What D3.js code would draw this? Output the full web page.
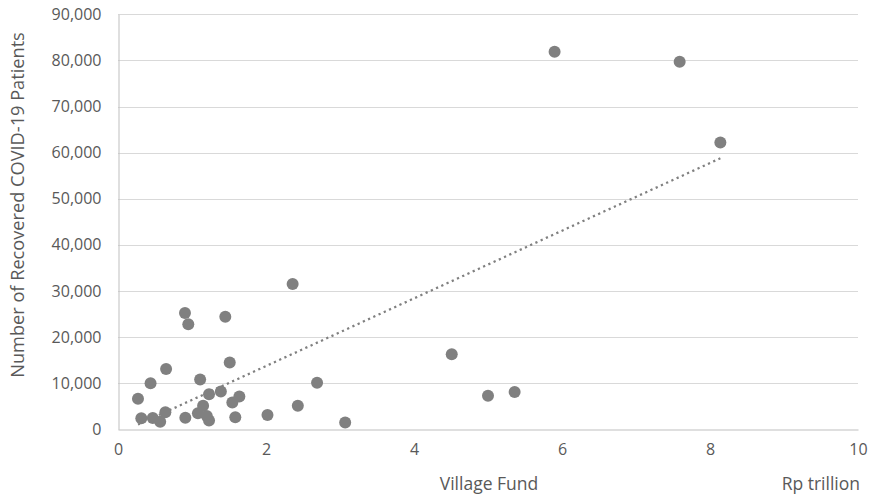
<!DOCTYPE html>
<html><head><meta charset="utf-8">
<script src="https://cdn.jsdelivr.net/npm/d3@7"></script>
<style>body{margin:0;background:#fff}text{font-family:"Open Sans",sans-serif;fill:#595959}</style>
</head><body>
<svg id="c" width="872" height="496"></svg>
<script>
const villageFund = [2.36,0.905,0.95,1.45,1.51,0.65,0.44,1.11,2.69,0.27,1.23,1.39,1.64,1.545,1.15,2.43,0.64,1.08,0.315,0.47,0.57,0.91,1.2,1.23,1.585,2.02,3.07,5.90,7.59,8.14,4.51,5.0,5.36];
const recovered = [31500,25200,22800,24400,14500,13100,10000,10800,10100,6600,7600,8200,7100,5800,5100,5100,3700,3500,2400,2450,1650,2500,2900,1900,2600,3100,1500,81900,79700,62200,16300,7300,8100];
const xTicks = [0,2,4,6,8,10];
const yTicks = [0,10000,20000,30000,40000,50000,60000,70000,80000,90000];
const xTitle = "Village Fund", xUnit = "Rp trillion", yTitle = "Number of Recovered COVID-19 Patients";

const svg = d3.select("#c");
const L=118,R=858,T=14.3,B=429.3;
const x = d3.scaleLinear().domain([0,10]).range([L,R]);
const y = d3.scaleLinear().domain([0,90000]).range([B,T]);

// gridlines
svg.append("g").selectAll("line").data(yTicks.slice(1)).join("line")
  .attr("x1",L).attr("x2",R).attr("y1",d=>Math.round(y(d))+0.5).attr("y2",d=>Math.round(y(d))+0.5)
  .attr("stroke","#d9d9d9").attr("stroke-width",1);

// axes
const ya = svg.append("g").attr("transform",`translate(${L+0.5},0)`)
  .call(d3.axisLeft(y).tickValues(yTicks).tickFormat(d3.format(",")).tickSize(0).tickPadding(17));
const xa = svg.append("g").attr("transform",`translate(0,${Math.round(B)+0.5})`)
  .call(d3.axisBottom(x).tickValues(xTicks).tickFormat(d3.format("d")).tickSize(0).tickPadding(14));
[ya,xa].forEach(a=>{a.select(".domain").attr("stroke","#bfbfbf");a.selectAll("text").style("font-size","16px").attr("fill","#595959").style("font-family","'Open Sans',sans-serif");});

// data points
const data = villageFund.map((v,i)=>({x:v,y:recovered[i]}));
svg.append("g").selectAll("circle").data(data).join("circle")
  .attr("cx",d=>x(d.x)).attr("cy",d=>y(d.y)).attr("r",6).attr("fill","#808080");

// linear trendline (least squares)
const mx=d3.mean(data,d=>d.x), my=d3.mean(data,d=>d.y);
const slope=d3.sum(data,d=>(d.x-mx)*(d.y-my))/d3.sum(data,d=>(d.x-mx)**2);
const icpt=my-slope*mx;
const [x0,x1]=d3.extent(villageFund);
svg.append("line").attr("x1",x(x0)).attr("y1",y(icpt+slope*x0)).attr("x2",x(x1)).attr("y2",y(icpt+slope*x1))
  .attr("stroke","#808080").attr("stroke-width",2.25).attr("stroke-dasharray","2.25,3.5");

// titles
svg.append("text").attr("x",489).attr("y",490).attr("text-anchor","middle").style("font-size","17.5px").text(xTitle);
svg.append("text").attr("x",860).attr("y",490).attr("text-anchor","end").style("font-size","17.5px").text(xUnit);
const yt = svg.append("text").attr("transform","translate(24,205) rotate(-90)").attr("text-anchor","middle").style("font-size","17px").text(yTitle);
const len = yt.node().getComputedTextLength();
if (len > 0) yt.style("font-size", (17*346/len).toFixed(2)+"px");
</script>
</body></html>
